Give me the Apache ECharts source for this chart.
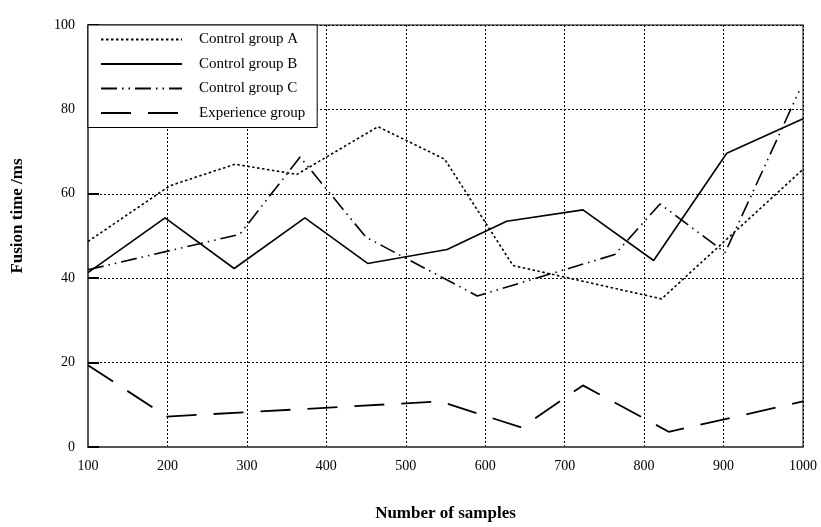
<!DOCTYPE html>
<html>
<head>
<meta charset="utf-8">
<script src="https://cdn.jsdelivr.net/npm/echarts@6/dist/echarts.min.js"></script>
<style>html,body{margin:0;padding:0;background:#fff;}#c{width:821px;height:527px;}</style>
</head>
<body>
<div id="c"></div>
<script>
const seriesNames = ['Control group A', 'Control group B', 'Control group C', 'Experience group'];
const xTicks = [100, 200, 300, 400, 500, 600, 700, 800, 900, 1000];
const yTicks = [0, 20, 40, 60, 80, 100];

const groupA_x = [100, 203, 285, 363, 465, 549, 635, 822, 1000];
const groupA_y = [48.7, 61.9, 67.0, 64.6, 75.9, 68.2, 43.0, 35.1, 65.8];

const groupB_x = [100, 197, 284, 373, 452, 552, 627, 723, 812, 904, 1000];
const groupB_y = [41.3, 54.3, 42.3, 54.3, 43.5, 46.8, 53.5, 56.2, 44.2, 69.6, 77.8];

const groupC_x = [100, 291, 367, 450, 590, 763, 820, 902, 995];
const groupC_y = [42.0, 50.4, 68.7, 49.7, 35.8, 45.6, 57.6, 46.1, 84.3];

const groupE_x = [100, 199, 543, 646, 723, 831, 1000];
const groupE_y = [19.4, 7.2, 10.8, 4.6, 14.6, 3.6, 10.8];

function pairs(xs, ys) { return xs.map((x, i) => [x, ys[i]]); }

const font = 'Liberation Serif';
const styles = [
  { type: [2.5, 2.5], width: 1.6 },
  { type: 'solid', width: 1.6 },
  { type: [16, 5, 1.5, 5, 1.5, 5], width: 1.6 },
  { type: [30, 17], width: 1.8 }
];
const datasets = [pairs(groupA_x, groupA_y), pairs(groupB_x, groupB_y), pairs(groupC_x, groupC_y), pairs(groupE_x, groupE_y)];

const chart = echarts.init(document.getElementById('c'), null, { renderer: 'canvas' });
chart.setOption({
  animation: false,
  backgroundColor: '#fff',
  textStyle: { fontFamily: font, color: '#000' },
  grid: { left: 88, right: 18, top: 25, bottom: 80, show: true, borderColor: '#555', borderWidth: 1.5, backgroundColor: 'transparent' },
  legend: {
    orient: 'vertical',
    left: 88, top: 25,
    padding: [7, 12, 7, 12],
    itemWidth: 81, itemHeight: 14, itemGap: 9.5,
    backgroundColor: '#fff',
    borderColor: '#000', borderWidth: 1,
    itemStyle: { opacity: 0, color: 'transparent', borderWidth: 0 },
    textStyle: { fontFamily: font, fontSize: 15, color: '#000', padding: [0, 0, 0, 12] },
    data: seriesNames
  },
  xAxis: {
    type: 'value', min: xTicks[0], max: xTicks[xTicks.length - 1], interval: 100,
    name: 'Number of samples', nameLocation: 'middle', nameGap: 58,
    nameTextStyle: { fontFamily: font, fontSize: 17, fontWeight: 'bold', color: '#000' },
    axisLine: { show: true, lineStyle: { color: '#555', width: 2 } },
    axisTick: { show: false },
    axisLabel: { fontFamily: font, fontSize: 14, color: '#000', margin: 12, formatter: v => String(v) },
    splitLine: { show: true, lineStyle: { color: '#000', type: [2, 2], width: 1 } }
  },
  yAxis: {
    type: 'value', min: yTicks[0], max: yTicks[yTicks.length - 1], interval: 20,
    name: 'Fusion time /ms', nameLocation: 'middle', nameGap: 62,
    nameTextStyle: { fontFamily: font, fontSize: 17, fontWeight: 'bold', color: '#000', padding: [0, 0, 0, 40] },
    axisLine: { show: true, lineStyle: { color: '#555', width: 2 } },
    axisTick: { show: true, inside: true, length: 11, lineStyle: { color: '#000', width: 2 } },
    axisLabel: { fontFamily: font, fontSize: 14, color: '#000', margin: 13 },
    splitLine: { show: true, lineStyle: { color: '#000', type: [2, 2], width: 1 } }
  },
  series: seriesNames.map((n, i) => ({
    name: n, type: 'line', data: datasets[i], symbol: 'none',
    lineStyle: { color: '#000', type: styles[i].type, width: styles[i].width },
    itemStyle: { color: '#000' },
    z: 3
  }))
});
</script>
</body>
</html>
